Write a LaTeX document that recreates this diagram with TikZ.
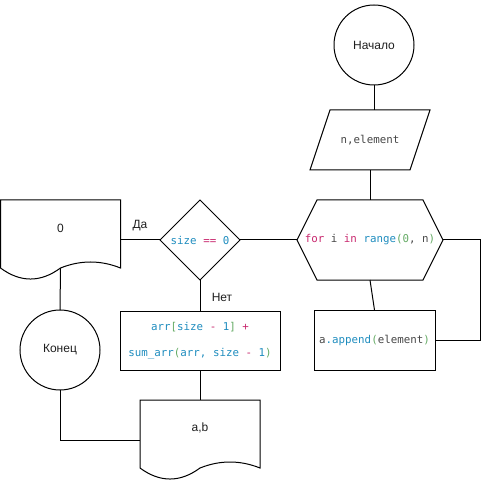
\documentclass[tikz,border=0pt]{standalone}
\usepackage{fontspec}
\setmainfont{Liberation Sans}
\newfontfamily\codefont{DejaVu Sans Mono}
\usetikzlibrary{shapes.geometric,calc}

% syntax colours for the code labels
\definecolor{synkw}{RGB}{200,40,110}
\definecolor{synfn}{RGB}{30,140,190}
\definecolor{synbr}{RGB}{100,170,100}
\definecolor{syntx}{RGB}{70,70,70}
\definecolor{labtx}{RGB}{30,30,30}
\newcommand{\ckw}[1]{\textcolor{synkw}{#1}}
\newcommand{\cfn}[1]{\textcolor{synfn}{#1}}
\newcommand{\cbr}[1]{\textcolor{synbr}{#1}}
\newcommand{\ctx}[1]{\textcolor{syntx}{#1}}

% wavy-bottomed document outline around an (undrawn) node
\newcommand{\docoutline}[1]{%
  \draw (#1.north west) -- (#1.north east) -- ($(#1.south east)+(0,12)$)
    .. controls ($(#1.south)+(40,4)$) and ($(#1.south)+(20,4)$) .. ($(#1.south)+(0,12)$)
    .. controls ($(#1.south)+(-20,26.7)$) and ($(#1.south)+(-40,26.7)$) .. ($(#1.south west)+(0,12)$)
    -- cycle;}

\begin{document}
\begin{tikzpicture}[x=1pt,y=-1pt,line width=1pt,
  every node/.style={inner sep=0pt,outer sep=0pt,text=labtx},
  terminal/.style={circle,draw,minimum size=80pt,font=\fontsize{12}{14}\selectfont},
  codebox/.style={rectangle,font=\codefont\fontsize{10.8}{26}\selectfont,align=center},
  docbox/.style={rectangle,minimum width=120pt,minimum height=56pt,font=\fontsize{12}{14}\selectfont},
  edgelabel/.style={font=\fontsize{12}{14}\selectfont}]

\useasboundingbox (0,0) rectangle (482,481);

% terminals
\node[terminal] (start) at (374,45) {Начало};
\node[terminal] (finish) at (60,350) {Конец};

% input parallelogram
\node[codebox,minimum width=120pt,minimum height=60pt] (input) at (370,140) {\ctx{n,element}};
\draw ($(input.north west)+(20,0)$) -- (input.north east)
  -- ($(input.south east)+(-20,0)$) -- (input.south west) -- cycle;

% loop hexagon
\node[codebox,minimum width=146pt,minimum height=80pt] (loop) at (370,240)
  {\ckw{for} \ctx{i} \ckw{in} \cfn{range}\cbr{(0}\ctx{, n}\cbr{)}};
\draw (loop.west) -- ($(loop.north west)+(20,0)$) -- ($(loop.north east)+(-20,0)$)
  -- (loop.east) -- ($(loop.south east)+(-20,0)$) -- ($(loop.south west)+(20,0)$) -- cycle;

% loop body
\node[codebox,draw,minimum width=121pt,minimum height=60pt] (append) at (374.5,340)
  {\ctx{a}\cfn{.append}\cbr{(}\ctx{element}\cbr{)}};

% condition
\node[diamond,draw,minimum width=80pt,minimum height=80pt,
  font=\codefont\fontsize{10.8}{13}\selectfont] (cond) at (200,240)
  {\cfn{size} \ckw{==} \cfn{0}};

% recursive step
\node[codebox,draw,minimum width=160pt,minimum height=59pt] (expr) at (200,340.5)
  {\cfn{arr}\cbr{[}\cfn{size} \ckw{-} \cfn{1}\cbr{]} \ckw{+}\\
   \cfn{sum\_arr}\cbr{(}\cfn{arr, size} \ckw{-} \cfn{1}\cbr{)}};

% output documents
\node[docbox] (doc0) at (60.5,228) {0};
\docoutline{doc0}
\node[docbox] (docab) at (200,428) {a,b};
\docoutline{docab}
\coordinate (doc0tail) at ($(doc0.south)+(0,12)$);

% connectors
\draw (start.south) -- (start.south |- input.north);
\draw (input.south) -- (loop.north);
\draw (loop.east) -- ++(37,0) |- (append.east);
\draw (loop.south) -- (append.north);
\draw (cond.east) -- (loop.west);
\draw (cond.west) -- (cond.west -| doc0.east);
\draw (cond.south) -- (expr.north);
\draw (expr.south) -- (docab.north);
\draw (doc0tail) -- (finish.north);
\draw (finish.south) |- ($(docab.west)+(0,12)$);

% branch labels
\node[edgelabel] (yes) at (140,226) {Да};
\node[edgelabel] (no) at (222,297) {Нет};
\end{tikzpicture}
\end{document}
